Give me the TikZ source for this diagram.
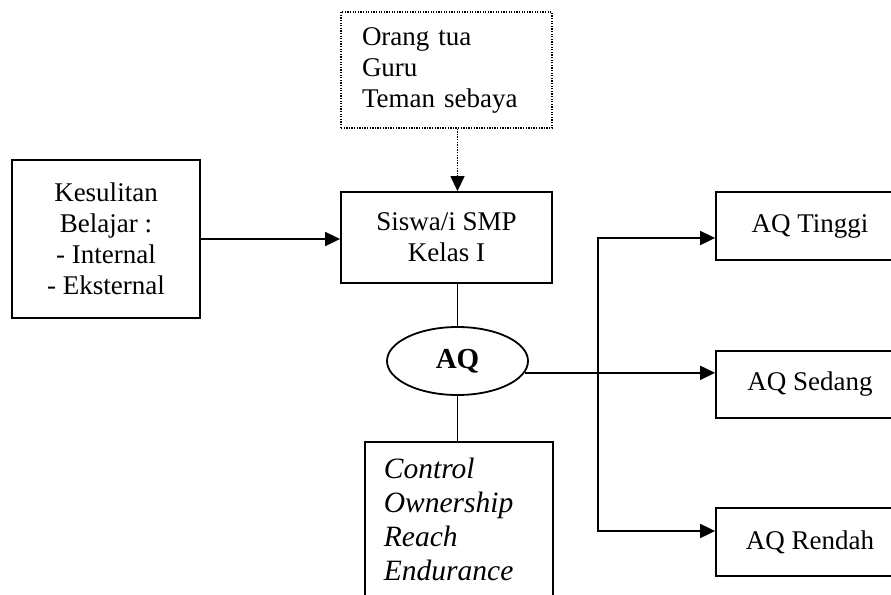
\documentclass[tikz,border=0pt]{standalone}
\usepackage{fontspec}
\setmainfont{Liberation Serif}
\usetikzlibrary{arrows.meta,shapes.geometric}
\begin{document}
\begin{tikzpicture}[x=1pt,y=-1pt,
  box/.style={draw, line width=1.8pt, inner sep=0pt, align=center, font=\fontsize{27}{31}\selectfont},
  dotbox/.style={draw, line width=1.3pt, dash pattern=on 1.3pt off 1.3pt, inner ysep=0pt, inner xsep=21pt, align=left, text width=169pt, font=\fontsize{27}{31}\selectfont},
  arr/.style={line width=1.8pt, -{Triangle[length=15pt,width=14pt]}},
  dotarr/.style={line width=1.3pt, dash pattern=on 1.3pt off 1.3pt, -{Triangle[length=15pt,width=14pt]}},
  ln/.style={line width=1.8pt},
]
\path[use as bounding box] (0,0) rectangle (891,594);
\clip (0,0) rectangle (891,594);

\node[dotbox, minimum height=116pt] (ortu) at (446.5,70) {Orang tua\\Guru\\Teman sebaya};
\node[box, minimum width=188pt, minimum height=158pt] (kes) at (106,239) {Kesulitan\\Belajar :\\- Internal\\ - Eksternal};
\node[box, minimum width=211pt, minimum height=91pt] (siswa) at (446.5,237.5) {Siswa/i SMP\\Kelas I};
\node[draw, ellipse, line width=1.8pt, inner sep=0pt, minimum width=141pt, minimum height=68pt, font=\fontsize{29}{31}\selectfont\bfseries] (aq) at (457.5,361) {AQ};
\node[draw, line width=1.8pt, anchor=north west, inner xsep=19pt, inner ysep=16pt, text width=150pt, align=left, text depth=150pt, font=\fontsize{29.5}{34}\selectfont\itshape] (ctl) at (364,441) {Control\\Ownership\\Reach\\Endurance};
\node[box, minimum width=188pt, minimum height=68pt] (tinggi) at (810,226) {AQ Tinggi};
\node[box, minimum width=188pt, minimum height=67pt] (sedang) at (810,384.5) {AQ Sedang};
\node[box, minimum width=188pt, minimum height=68pt] (rendah) at (810,542) {AQ Rendah};

\coordinate (j1) at (598,238);
\coordinate (j2) at (598,531);

\draw[arr] (kes.east) -- (kes.east -| siswa.west);
\draw[dotarr] (ortu.south -| aq.center) -- (siswa.north -| aq.center);
\draw[ln] (siswa.south -| aq.center) -- (aq.north);
\draw[ln] (aq.south) -- (ctl.north -| aq.center);
\draw[arr] (aq.-10) -- (aq.-10 -| sedang.west);
\draw[line width=1.8pt, {Triangle[length=15pt,width=14pt]}-{Triangle[length=15pt,width=14pt]}] (j1 -| tinggi.west) -- (j1) -- (j2) -- (j2 -| rendah.west);
\end{tikzpicture}
\end{document}
